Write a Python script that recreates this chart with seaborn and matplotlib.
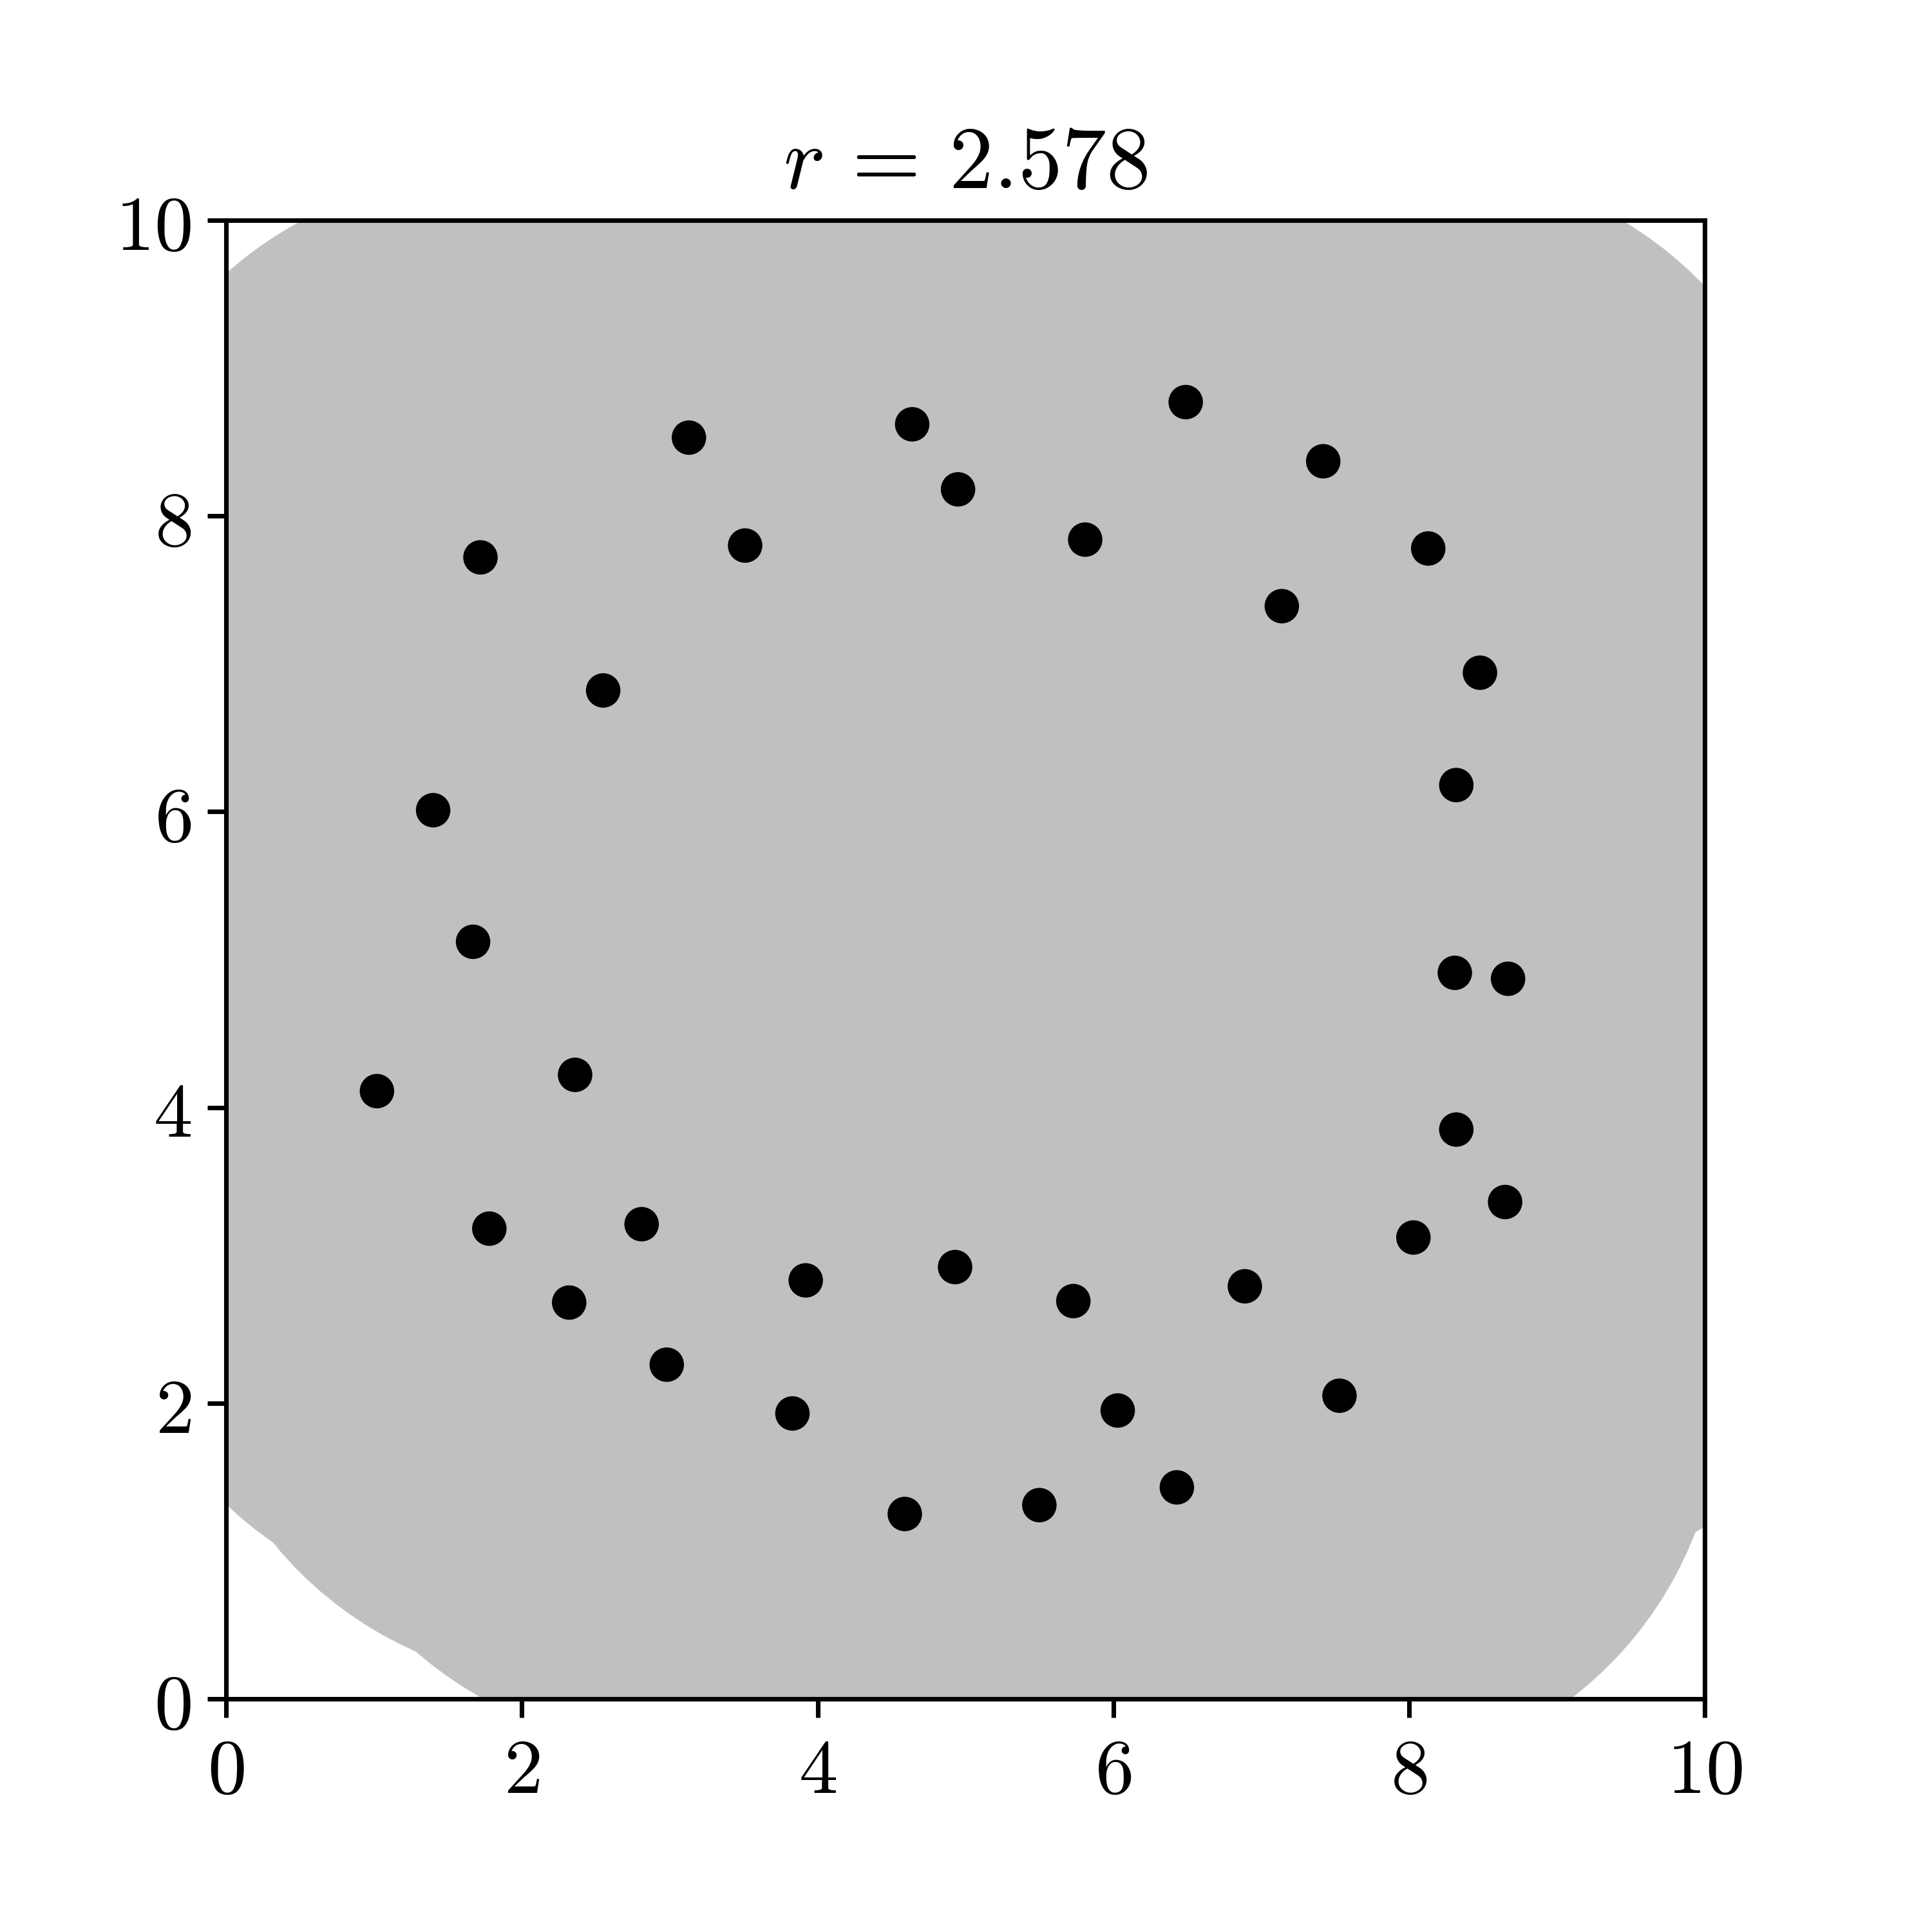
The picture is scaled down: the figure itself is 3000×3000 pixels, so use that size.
import matplotlib
matplotlib.use("Agg")
import matplotlib.pyplot as plt
import seaborn as sns
import pandas as pd
from matplotlib.patches import Circle
from matplotlib.ticker import FuncFormatter

# Data
x_vals = [1.02, 1.40, 1.67, 1.72, 1.78, 2.32, 2.36, 2.55, 2.81, 2.98,
          3.13, 3.51, 3.83, 3.92, 4.59, 4.64, 4.93, 4.95, 5.50, 5.73,
          5.81, 6.03, 6.43, 6.49, 6.89, 7.14, 7.42, 7.53, 8.03, 8.13,
          8.32, 8.31, 8.32, 8.48, 8.65, 8.67]
y_vals = [4.11, 6.01, 5.12, 7.72, 3.18, 2.68, 4.22, 6.82, 3.21, 2.26,
          8.53, 7.80, 1.93, 2.83, 1.25, 8.62, 2.92, 8.18, 1.31, 2.69,
          7.84, 1.95, 1.43, 8.77, 2.79, 7.39, 8.37, 2.05, 3.12, 7.78,
          6.18, 4.91, 3.85, 6.94, 3.36, 4.87]
radius = 2.578
ticks = [0, 2, 4, 6, 8, 10]

df = pd.DataFrame({"x": x_vals, "y": y_vals})

sns.set_style("ticks")
plt.rcParams["mathtext.fontset"] = "cm"
plt.rcParams["font.family"] = ["DejaVu Serif"]
plt.rcParams["text.color"] = "black"
plt.rcParams["xtick.color"] = "black"
plt.rcParams["ytick.color"] = "black"
plt.rcParams["axes.labelcolor"] = "black"

fig = plt.figure(figsize=(10, 10), dpi=300)
ax = fig.add_axes([0.1167, 0.1207, 0.766, 0.7653])

for xi, yi in zip(x_vals, y_vals):
    ax.add_patch(Circle((xi, yi), radius, facecolor="#c0c0c0", edgecolor="none", zorder=1))

sns.scatterplot(data=df, x="x", y="y", ax=ax, color="black", s=165,
                edgecolor="none", linewidth=0, zorder=3, legend=False)

ax.set_xlim(0, 10)
ax.set_ylim(0, 10)
ax.set_aspect("equal")
ax.set_xticks(ticks)
ax.set_yticks(ticks)
fmt = FuncFormatter(lambda v, p: f"${v:g}$")
ax.xaxis.set_major_formatter(fmt)
ax.yaxis.set_major_formatter(fmt)
ax.set_xlabel("")
ax.set_ylabel("")
ax.tick_params(axis="both", which="major", labelsize=29, length=7, width=1.7,
               direction="out", color="black", labelcolor="black", pad=6)
for s in ax.spines.values():
    s.set_linewidth(1.7)
    s.set_color("black")
    s.set_visible(True)
ax.set_title(r"$r\,=\,2.578$", fontsize=33, pad=12, color="black")

fig.savefig("out.png", dpi=300)
